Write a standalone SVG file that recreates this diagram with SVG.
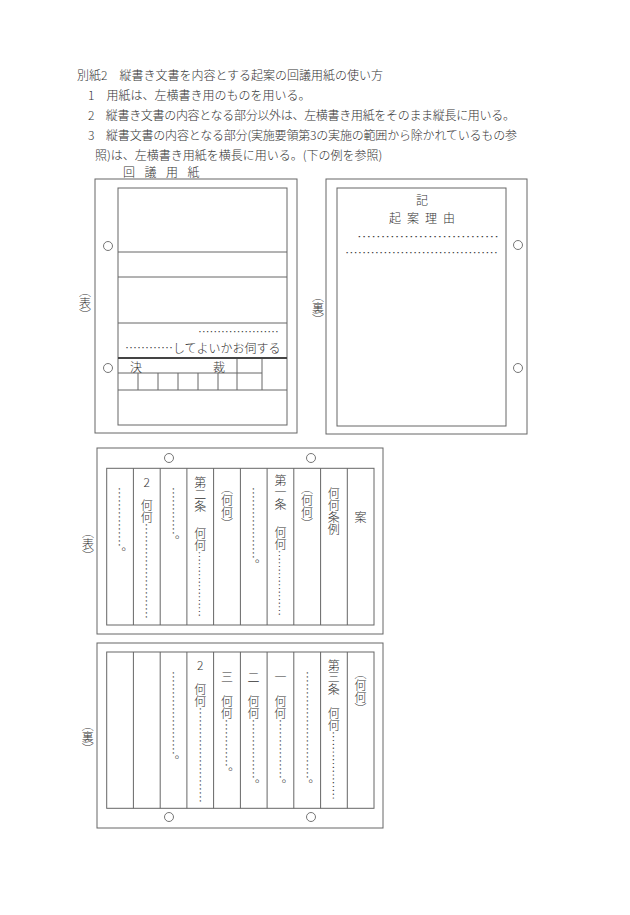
<svg xmlns="http://www.w3.org/2000/svg" width="630" height="915" viewBox="0 0 630 915">
<style>
text{font-family:"Noto Sans CJK JP","Noto Sans CJK SC",sans-serif;font-size:12px;fill:#333;font-weight:300;transform:rotate(0.01deg)}
.v{writing-mode:vertical-rl}
.s{font-size:11px}
.mid{text-anchor:middle}
.ln{stroke:#666;stroke-width:1;fill:none}
.hole{stroke:#666;stroke-width:0.9;fill:#fff}
</style>
<rect width="630" height="915" fill="#fff"/>
<g id="header">
<text x="77" y="79.5">別紙2　縦書き文書を内容とする起案の回議用紙の使い方</text>
<text x="88" y="99.5">1　用紙は、左横書き用のものを用いる。</text>
<text x="88" y="119.5" textLength="427" lengthAdjust="spacing">2　縦書き文書の内容となる部分以外は、左横書き用紙をそのまま縦長に用いる。</text>
<text x="88" y="139.5" textLength="429" lengthAdjust="spacing">3　縦書文書の内容となる部分(実施要領第3の実施の範囲から除かれているもの参</text>
<text x="95" y="159.5">照)は、左横書き用紙を横長に用いる。(下の例を参照)</text>
</g>
<g id="form-front-vertical">
<text x="123" y="176.5" letter-spacing="9.5">回議用紙</text>
<text class="v" x="85" y="285">（表）</text>
<rect class="ln" x="95" y="179" width="202" height="254"/>
<rect class="ln" x="118" y="188" width="169" height="237"/>
<path class="ln" d="M118 252H287M118 277H287M118 323H287M118 373H262M118 390H287M237 358V390M262 358V390M138 373V390M158 373V390M178 373V390M198 373V390M218 373V390"/>
<path d="M118 358H287" stroke="#444" stroke-width="1.8"/>
<circle class="hole" cx="108" cy="246" r="4.5"/>
<circle class="hole" cx="108" cy="368" r="4.5"/>
<text x="198" y="336.5" textLength="81" lengthAdjust="spacingAndGlyphs">…………………</text>
<text x="125" y="353">…………してよいかお伺する</text>
<text class="mid" x="136" y="371.5">決</text>
<text class="mid" x="219" y="371.5">裁</text>
</g>
<g id="form-back-vertical">
<text class="v" x="318" y="290">（裏）</text>
<rect class="ln" x="326" y="179" width="201" height="255"/>
<rect class="ln" x="337" y="188" width="169" height="238"/>
<circle class="hole" cx="518" cy="245" r="4.5"/>
<circle class="hole" cx="518" cy="368" r="4.5"/>
<text class="mid" x="422" y="204.5">記</text>
<text x="389" y="222.5" letter-spacing="6">起案理由</text>
<text x="357" y="241.5" textLength="142" lengthAdjust="spacingAndGlyphs">…………………………</text>
<text x="345" y="257.5" textLength="153" lengthAdjust="spacingAndGlyphs">………………………………</text>
</g>
<g id="form-front-horizontal">
<text class="v" x="88" y="526">（表）</text>
<rect class="ln" x="97" y="448" width="286" height="186"/>
<rect class="ln" x="106.7" y="468.3" width="267.3" height="156.7"/>
<path class="ln" d="M133.4 468.3V625M160.2 468.3V625M186.9 468.3V625M213.6 468.3V625M240.4 468.3V625M267.1 468.3V625M293.8 468.3V625M320.6 468.3V625M347.3 468.3V625"/>
<circle class="hole" cx="169" cy="458" r="4.5"/>
<circle class="hole" cx="311" cy="458" r="4.5"/>
<text class="v" x="120" y="487">……………。</text>
<text class="mid" x="146.8" y="486.5">2</text>
<text class="v" x="146.8"><tspan y="499">何何……………………</tspan></text>
<text class="v" x="173.5" y="487">…………。</text>
<text class="v" x="200.3"><tspan y="476">第二条</tspan><tspan y="527">何何</tspan><tspan class="s">………………</tspan></text>
<text class="v" x="227" y="482">（何何）</text>
<text class="v" x="253.7" y="487">………………。</text>
<text class="v" x="280.5"><tspan y="474">第一条</tspan><tspan y="526">何何</tspan><tspan class="s">………………</tspan></text>
<text class="v" x="307.2" y="482">（何何）</text>
<text class="v" x="333.9" y="487">何何条例</text>
<text class="v" x="360.7" y="511">案</text>
</g>
<g id="form-back-horizontal">
<text class="v" x="88" y="719">（裏）</text>
<rect class="ln" x="97" y="643" width="286" height="185"/>
<rect class="ln" x="106.7" y="652" width="267.3" height="156.3"/>
<path class="ln" d="M133.4 652V808.3M160.2 652V808.3M186.9 652V808.3M213.6 652V808.3M240.4 652V808.3M267.1 652V808.3M293.8 652V808.3M320.6 652V808.3M347.3 652V808.3"/>
<circle class="hole" cx="169" cy="817" r="4.5"/>
<circle class="hole" cx="311" cy="817" r="4.5"/>
<text class="v" x="173.5" y="671">…………………。</text>
<text class="mid" x="200.3" y="669.5">2</text>
<text class="v" x="200.3"><tspan y="683">何何……………………</tspan></text>
<text class="v" x="227"><tspan y="671">三</tspan><tspan y="695">何何…………。</tspan></text>
<text class="v" x="253.7"><tspan y="671">二</tspan><tspan y="695">何何……………。</tspan></text>
<text class="v" x="280.5"><tspan y="671">一</tspan><tspan y="695">何何……………。</tspan></text>
<text class="v" x="307.2" y="671" font-size="11.5">………………………。</text>
<text class="v" x="333.9"><tspan y="659">第三条</tspan><tspan y="707">何何</tspan><tspan font-size="11.5">………………</tspan></text>
<text class="v" x="360.7" y="667">（何何）</text>
</g>
</svg>
